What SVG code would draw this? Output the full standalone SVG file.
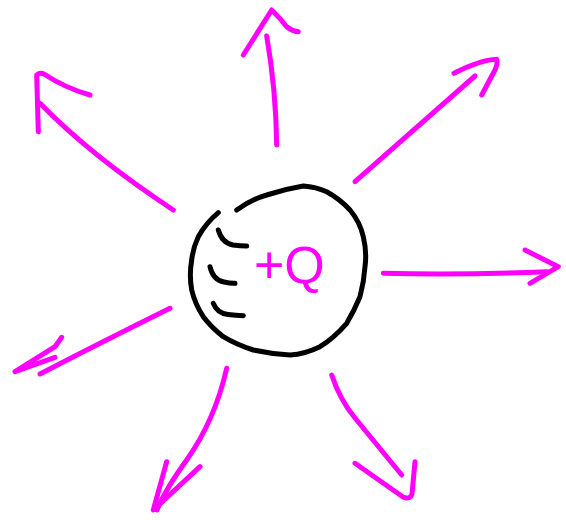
<svg xmlns="http://www.w3.org/2000/svg" width="566" height="520" viewBox="0 0 566 520">
  <style>
    .ink { fill: none; stroke: #000; stroke-width: 5; stroke-linecap: round; stroke-linejoin: round; }
    .field { fill: none; stroke: #ff00ff; stroke-width: 5; stroke-linecap: round; stroke-linejoin: round; }
    .label { font-family: "Liberation Sans", Arial, sans-serif; font-size: 52px; fill: #ff00ff; }
  </style>
  <rect width="566" height="520" fill="#fff"/>
  <g id="connectors">
    <g id="arrow-up">
      <path class="field" d="M276.7,145 Q276,90 266.7,36"/>
      <path class="field" d="M243.3,55 L271.7,10 Q280,18 286.7,26.7 Q292,31 298.3,31.7"/>
    </g>
    <g id="arrow-upleft">
      <path class="field" d="M173.3,210 Q90,155 40,103.3"/>
      <path class="field" d="M38.3,131.7 L36.7,75 Q40,72 44,74 Q65,88 90,95"/>
    </g>
    <g id="arrow-upright">
      <path class="field" d="M355,181.7 L475,76"/>
      <path class="field" d="M454,73.3 Q480,60 496.7,59.3 Q498,63 495,70 L481.7,95"/>
    </g>
    <g id="arrow-right">
      <path class="field" d="M383.3,273.3 Q466,275 546.7,271.7"/>
      <path class="field" d="M525,250 L558.3,266.7 L530,283.3"/>
    </g>
    <g id="arrow-downleft">
      <path class="field" d="M170,308.3 Q100,343 40,374"/>
      <path class="field" d="M61.7,337.3 L55,346.7 L15,371.7 L55,357.3"/>
    </g>
    <g id="arrow-down">
      <path class="field" d="M226.7,368.3 Q215,420 186.7,460 Q165,490 157,510"/>
      <path class="field" d="M166.7,461.7 L153.3,510 L200,466.7"/>
    </g>
    <g id="arrow-downright">
      <path class="field" d="M331.7,375 Q340,400 355,418 L401.7,475"/>
      <path class="field" d="M355,463.3 L403,497 Q410,500 412,494 L415,461.7"/>
    </g>
  </g>
  <g id="charge">
    <path class="ink" d="M236.7,210 Q252,199 266.7,195 Q285,189 303.3,186 Q316,187 326.7,191.7 Q340,199 350,210 Q360,222 363.3,236.7 Q367,252 365,266.7 Q364,282 360,296.7 Q354,311 346.7,323.3 Q334,338 320,346.7 Q305,354 290,355 Q271,354 253.3,350 Q237,345 223.3,336.7 Q211,327 203.3,316.7 Q195,304 191.7,290 Q189,275 191.7,260 Q193,248 198.3,236.7 Q206,223 218.3,212.7"/>
    <path class="ink" d="M218.3,230 Q222,243 233,245 Q240,246 246.7,246"/>
    <path class="ink" d="M210,266.7 Q213,280 224,282 Q230,283.5 235,283.3"/>
    <path class="ink" d="M213.3,303.3 Q217,313 228,314.5 Q236,315.5 243.3,315.7"/>
    <text class="label" x="254" y="283">+Q</text>
  </g>
</svg>
